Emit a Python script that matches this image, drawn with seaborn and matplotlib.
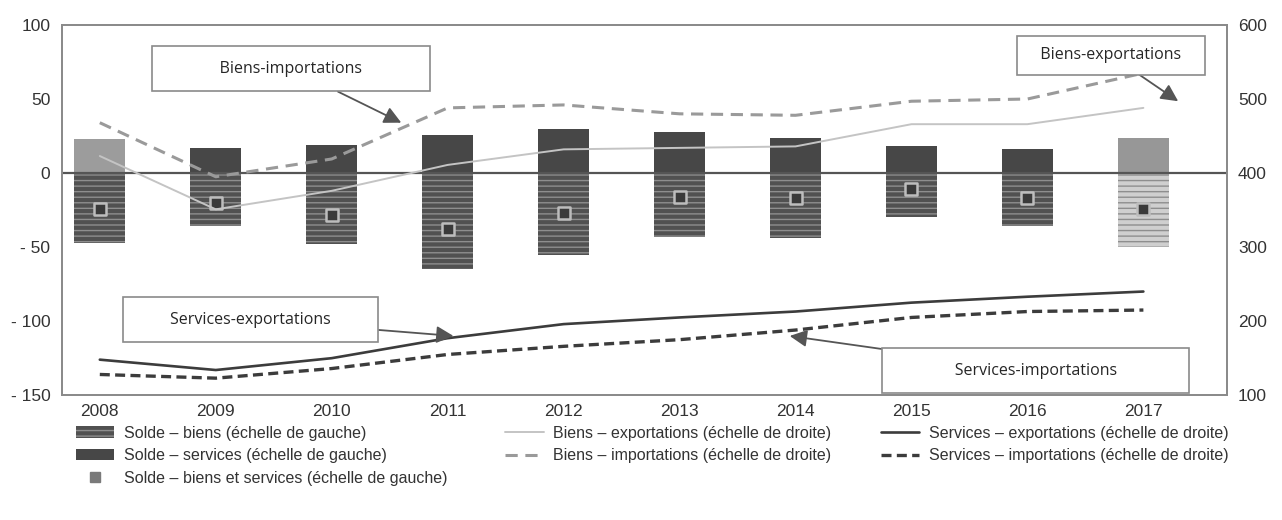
import numpy as np
import pandas as pd
import matplotlib
matplotlib.use("Agg")
import matplotlib.pyplot as plt
from matplotlib.patches import Patch
from matplotlib.lines import Line2D
import seaborn as sns

# ---------------------------------
# Data
# ---------------------------------
years = ["2008", "2009", "2010", "2011", "2012", "2013", "2014", "2015", "2016", "2017"]

# left scale: balances
solde_biens = [-47, -36, -48, -65, -55, -43, -44, -30, -36, -50]
solde_services = [23, 17, 19, 26, 30, 28, 24, 18, 16, 24]
solde_total = [-24, -20, -28, -38, -27, -16, -17, -11, -17, -24]

# right scale: flows
biens_export = [423, 351, 376, 411, 432, 434, 436, 466, 466, 488]
biens_import = [468, 395, 419, 488, 492, 480, 478, 497, 500, 535]
services_export = [148, 134, 150, 177, 196, 205, 213, 225, 233, 240]
services_import = [128, 123, 136, 155, 166, 175, 188, 205, 213, 215]

left_ticks = [-150, -100, -50, 0, 50, 100]
left_labels = ["- 150", "- 100", "- 50", "0", "50", "100"]
right_ticks = [100, 200, 300, 400, 500, 600]

# bar shades (2017 drawn lighter in the source, 2008 services too)
biens_colors = ["#515151"] * 9 + ["#cfcfcf"]
services_colors = ["#9c9c9c"] + ["#474747"] * 8 + ["#979797"]

df = pd.DataFrame({
    "year": years,
    "biens": solde_biens,
    "services": solde_services,
    "total": solde_total,
    "b_exp": biens_export,
    "b_imp": biens_import,
    "s_exp": services_export,
    "s_imp": services_import,
})
df["pos"] = np.arange(len(df))

sns.set_style("white")
plt.rcParams["font.family"] = ["Liberation Sans Narrow", "Liberation Sans", "DejaVu Sans"]

fig = plt.figure(figsize=(12.82, 5.2), dpi=100)
ax = fig.add_axes([0.048, 0.24, 0.909, 0.712])

# ---------------------------------
# Balances (bars, left axis)
# ---------------------------------
sns.barplot(data=df, x="year", y="biens", hue="year", palette=biens_colors,
            width=0.44, legend=False, ax=ax, saturation=1)
sns.barplot(data=df, x="year", y="services", hue="year", palette=services_colors,
            width=0.44, legend=False, ax=ax, saturation=1)
n = len(years)
for p in ax.patches[:n]:
    p.set_hatch("---")
    p.set_edgecolor("#8e8e8e")
    p.set_linewidth(0)
for p in ax.patches[n:]:
    p.set_linewidth(0)

ax.axhline(0, color="#555555", lw=1.6, zorder=1)

sns.scatterplot(data=df, x="pos", y="total", marker="s", s=75, color="#3a3a3a",
                edgecolor="#bdbdbd", linewidth=1.8, ax=ax, zorder=5)

ax.set_ylim(-150, 100)
ax.set_xlim(-0.33, 9.72)
ax.set_yticks(left_ticks)
ax.set_yticklabels(left_labels)
ax.set_xlabel("")
ax.set_ylabel("")

# ---------------------------------
# Flows (lines, right axis)
# ---------------------------------
ax2 = ax.twinx()
sns.lineplot(data=df, x="pos", y="b_exp", color="#c4c4c4", lw=1.4, ax=ax2)
sns.lineplot(data=df, x="pos", y="b_imp", color="#9a9a9a", lw=2.2, ax=ax2,
             linestyle=(0, (4, 2.5)))
sns.lineplot(data=df, x="pos", y="s_exp", color="#3c3c3c", lw=1.9, ax=ax2)
sns.lineplot(data=df, x="pos", y="s_imp", color="#3c3c3c", lw=2.4, ax=ax2,
             linestyle=(0, (3, 1.6)))
ax2.set_ylim(100, 600)
ax2.set_yticks(right_ticks)
ax2.set_ylabel("")
ax2.set_xlabel("")

for a in (ax, ax2):
    a.tick_params(length=0, labelsize=12.5, colors="#333333", pad=8)
    for s in a.spines.values():
        s.set_color("#8a8a8a")
        s.set_linewidth(1.3)
ax.tick_params(axis="x", pad=6)

# ---------------------------------
# Callout boxes
# ---------------------------------
box = dict(boxstyle="square,pad=0.9", fc="white", ec="#8a8a8a", lw=1.2)
arrow = dict(arrowstyle="-|>,head_length=0.9,head_width=0.45", color="#555555", lw=1.3,
             shrinkA=0, shrinkB=0)
font_box = ["Open Sans", "DejaVu Sans"]

ax2.annotate("             Biens-importations             ", xy=(2.6, 468), xytext=(1.65, 541),
             ha="center", va="center", fontsize=11.5, family=font_box,
             bbox=box, arrowprops=arrow, zorder=6)
ax2.annotate("   Biens-exportations   ", xy=(9.3, 497), xytext=(8.72, 559),
             ha="center", va="center", fontsize=11.5, family=font_box,
             bbox=dict(boxstyle="square,pad=0.7", fc="white", ec="#8a8a8a", lw=1.2),
             arrowprops=arrow, zorder=6)
ax2.annotate("        Services-exportations        ", xy=(3.05, 180), xytext=(1.3, 202),
             ha="center", va="center", fontsize=11.5, family=font_box,
             bbox=box, arrowprops=arrow, zorder=6)
ax2.annotate("              Services-importations              ", xy=(5.95, 180),
             xytext=(8.07, 133),
             ha="center", va="center", fontsize=11.5, family=font_box,
             bbox=box, arrowprops=arrow, zorder=6)

# ---------------------------------
# Legend (three blocks below the plot)
# ---------------------------------
leg_kw = dict(frameon=False, fontsize=11.5, handlelength=2.4, handletextpad=0.6,
              labelspacing=0.48, borderpad=0, loc="upper left", labelcolor="#333333")

h1 = [
    Patch(facecolor="#515151", edgecolor="#8e8e8e", hatch="---", lw=0),
    Patch(facecolor="#474747", lw=0),
    Line2D([], [], marker="s", ls="none", color="#7a7a7a", markersize=7),
]
l1 = ["Solde – biens (échelle de gauche)",
      "Solde – services (échelle de gauche)",
      "Solde – biens et services (échelle de gauche)"]
h2 = [Line2D([], [], color="#c4c4c4", lw=1.4),
      Line2D([], [], color="#9a9a9a", lw=2.2, ls=(0, (4, 2.5)))]
l2 = ["Biens – exportations (échelle de droite)",
      "Biens – importations (échelle de droite)"]
h3 = [Line2D([], [], color="#3c3c3c", lw=1.9),
      Line2D([], [], color="#3c3c3c", lw=2.4, ls=(0, (3, 1.6)))]
l3 = ["Services – exportations (échelle de droite)",
      "Services – importations (échelle de droite)"]

fig.legend(h1, l1, bbox_to_anchor=(0.053, 0.197), **leg_kw)
fig.legend(h2, l2, bbox_to_anchor=(0.388, 0.197), **leg_kw)
fig.legend(h3, l3, bbox_to_anchor=(0.681, 0.197), **leg_kw)

fig.savefig("out.png", dpi=100)
